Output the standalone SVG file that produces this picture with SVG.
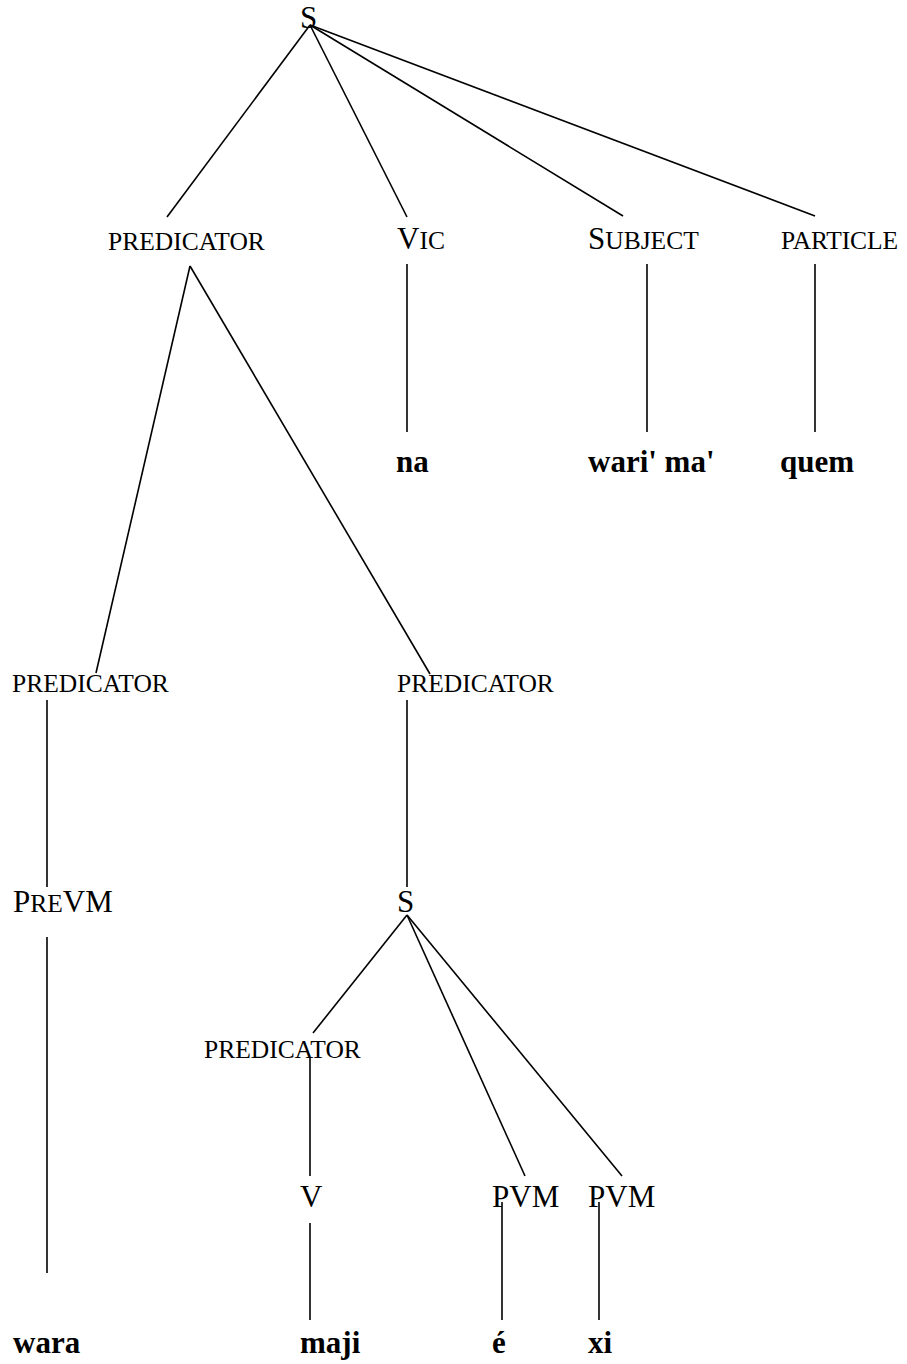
<svg xmlns="http://www.w3.org/2000/svg" width="907" height="1364" viewBox="0 0 907 1364">
  <style>
    text { font-family: "Liberation Serif", "Times New Roman", serif; fill: #000; }
    .cat { font-size: 31px; }
    .sc { font-size: 25.5px; }
    .word { font-size: 31px; font-weight: bold; }
    .edges line { stroke: #000; stroke-width: 1.6; stroke-linecap: butt; }
  </style>
  <rect width="907" height="1364" fill="#fff"/>

  <!-- tree branches -->
  <g id="connectors" class="edges">
    <line x1="310" y1="25" x2="167" y2="217"/>
    <line x1="310" y1="25" x2="407" y2="217"/>
    <line x1="310" y1="25" x2="623" y2="216"/>
    <line x1="310" y1="25" x2="815" y2="216"/>
    <line x1="407" y1="264" x2="407" y2="432"/>
    <line x1="647" y1="264" x2="647" y2="432"/>
    <line x1="815" y1="264" x2="815" y2="432"/>
    <line x1="190" y1="266" x2="96" y2="673"/>
    <line x1="190" y1="266" x2="430" y2="674"/>
    <line x1="47" y1="700" x2="47" y2="887"/>
    <line x1="407" y1="700" x2="407" y2="887"/>
    <line x1="47" y1="937" x2="47" y2="1273"/>
    <line x1="407" y1="915" x2="313" y2="1033"/>
    <line x1="407" y1="915" x2="525" y2="1176"/>
    <line x1="407" y1="915" x2="622" y2="1176"/>
    <line x1="310" y1="1057" x2="310" y2="1176"/>
    <line x1="310" y1="1223" x2="310" y2="1320"/>
    <line x1="502" y1="1202" x2="502" y2="1320"/>
    <line x1="599" y1="1202" x2="599" y2="1320"/>
  </g>

  <!-- category nodes -->
  <g id="s-root"><text class="cat" x="300" y="28">S</text></g>
  <g id="predicator-1"><text class="sc" x="108" y="250">PREDICATOR</text></g>
  <g id="vic"><text x="397" y="249"><tspan class="cat">V</tspan><tspan class="sc">IC</tspan></text></g>
  <g id="subject"><text x="588" y="249"><tspan class="cat">S</tspan><tspan class="sc">UBJECT</tspan></text></g>
  <g id="particle"><text class="sc" x="781" y="249" textLength="117">PARTICLE</text></g>

  <g id="predicator-2"><text class="sc" x="12" y="692">PREDICATOR</text></g>
  <g id="predicator-3"><text class="sc" x="397" y="692">PREDICATOR</text></g>

  <g id="prevm"><text x="13" y="912"><tspan class="cat">P</tspan><tspan class="sc">RE</tspan><tspan class="cat">VM</tspan></text></g>
  <g id="s-embedded"><text class="cat" x="397" y="912">S</text></g>

  <g id="predicator-4"><text class="sc" x="204" y="1058">PREDICATOR</text></g>
  <g id="v"><text class="cat" x="300" y="1207">V</text></g>
  <g id="pvm-1"><text class="cat" x="492" y="1207">PVM</text></g>
  <g id="pvm-2"><text class="cat" x="588" y="1207">PVM</text></g>

  <!-- terminal words -->
  <g id="w-na"><text class="word" x="396" y="472">na</text></g>
  <g id="w-wari-ma"><text class="word" x="588" y="472">wari' ma'</text></g>
  <g id="w-quem"><text class="word" x="780" y="472">quem</text></g>
  <g id="w-wara"><text class="word" x="13" y="1353">wara</text></g>
  <g id="w-maji"><text class="word" x="300" y="1353">maji</text></g>
  <g id="w-e"><text class="word" x="492" y="1353">é</text></g>
  <g id="w-xi"><text class="word" x="588" y="1353">xi</text></g>
</svg>
